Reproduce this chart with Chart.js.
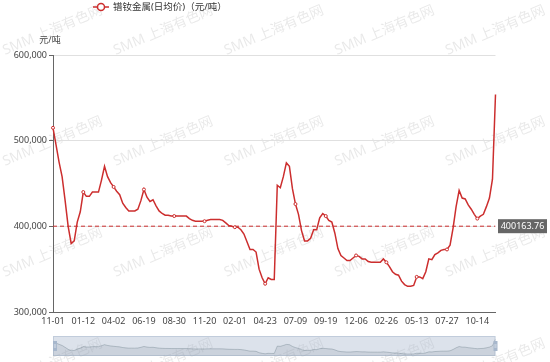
<!DOCTYPE html>
<html>
<head>
<meta charset="utf-8">
<script src="https://cdn.jsdelivr.net/npm/chart.js@4/dist/chart.umd.min.js"></script>
<style>
html, body { margin: 0; padding: 0; background: #fff; }
#wrap { position: relative; width: 550px; height: 362px; overflow: hidden; }
#main { position: absolute; left: 0; top: 0; }
#zoomBar { position: absolute; left: 48px; top: 334px; }
</style>
</head>
<body>
<div id="wrap">
  <canvas id="main" width="550" height="362" style="width:550px;height:362px"></canvas>
  <canvas id="zoomBar" width="454" height="24" style="width:454px;height:24px"></canvas>
</div>
<script>
// values, one point every ~1/10 of a label interval
var tickLabels = ['11-01', '01-12', '04-02', '06-19', '08-30', '11-20', '02-01', '04-23',
                  '07-09', '09-19', '12-06', '02-26', '05-13', '07-27', '10-14'];

var prices = [
  515000, 495000, 475000, 458000, 430000, 400000, 380000, 383000, 405000, 417000,
  440000, 435000, 435000, 440000, 440000, 440000, 454000, 470000, 458000, 451000,
  446000, 441000, 437000, 427000, 422000, 418000, 418000, 418000, 420000, 430000,
  443000, 434000, 429000, 431000, 424000, 418000, 415000, 413000, 413000, 412000,
  412000, 412000, 412000, 412000, 412000, 409000, 407000, 406000, 406000, 406000,
  406000, 407000, 408000, 408000, 408000, 408000, 407000, 404000, 401000, 400000,
  399000, 399000, 396000, 391000, 382000, 373000, 373000, 370000, 350000, 340000,
  333000, 340000, 338000, 338000, 448000, 445000, 458000, 474000, 470000, 444000,
  426000, 414000, 395000, 383000, 383000, 386000, 396000, 396000, 410000, 415000,
  412000, 407000, 405000, 392000, 374000, 366000, 363000, 360000, 360000, 363000,
  366000, 365000, 362000, 362000, 359000, 358000, 358000, 358000, 358000, 362000,
  358000, 353000, 347000, 344000, 343000, 336000, 332000, 330000, 330000, 331000,
  341000, 341000, 339000, 347000, 362000, 361000, 367000, 369000, 372000, 373000,
  373000, 378000, 398000, 423000, 442000, 433000, 432000, 425000, 420000, 414000,
  409000, 412000, 414000, 423000, 433000, 455000, 554000
];

var avgPrice = 400163.76;
var seriesName = '镨钕金属(日均价)（元/吨）';
var unitName = '元/吨';
var watermarkText = 'SMM 上海有色网';

var RED = '#cc2e2e';
var FONT = '"Noto Sans", "Noto Sans CJK SC", sans-serif';

var points = prices.map(function (v, i) { return { x: i, y: v }; });

// legend, unit title, avg label, watermark
var decor = {
    id: 'decor',
    beforeDraw: function (chart) {
        var ctx = chart.ctx;
        ctx.save();
        ctx.font = '14px ' + FONT;
        ctx.fillStyle = 'rgba(0,0,0,0.09)';
        ctx.textBaseline = 'alphabetic';
        for (var r = 0; r < 4; r++) {
            for (var c = 0; c < 5; c++) {
                ctx.save();
                ctx.translate(5 + 110.7 * c, 55 + 111 * r);
                ctx.rotate(-0.4);
                ctx.fillText(watermarkText, 0, 0);
                ctx.restore();
            }
        }
        ctx.restore();
    },
    afterDraw: function (chart) {
        var ctx = chart.ctx;
        ctx.save();

        // legend
        ctx.strokeStyle = RED;
        ctx.lineWidth = 1.5;
        ctx.beginPath();
        ctx.moveTo(93, 7);
        ctx.lineTo(109, 7);
        ctx.stroke();
        ctx.beginPath();
        ctx.arc(101, 7, 3.5, 0, Math.PI * 2);
        ctx.fillStyle = '#fff';
        ctx.fill();
        ctx.stroke();
        ctx.fillStyle = '#333';
        ctx.font = '9.5px ' + FONT;
        ctx.textBaseline = 'middle';
        ctx.textAlign = 'left';
        ctx.fillText(seriesName, 113, 7);

        // unit title
        ctx.textAlign = 'center';
        ctx.fillStyle = '#444';
        ctx.font = '9px ' + FONT;
        ctx.fillText(unitName, 50, 40);

        // avg label
        var y = chart.scales.y.getPixelForValue(avgPrice);
        ctx.fillStyle = '#666';
        ctx.fillRect(498, y - 7, 49, 14);
        ctx.fillStyle = '#fff';
        ctx.font = '9px ' + FONT;
        ctx.fillText(avgPrice.toFixed(2), 522.5, y + 0.5);

        ctx.restore();
    }
};

var mainChart = new Chart(document.getElementById('main'), {
    type: 'line',
    data: {
        datasets: [{
            label: seriesName,
            data: points,
            borderColor: RED,
            borderWidth: 1.5,
            tension: 0,
            clip: 5,
            pointRadius: function (c) { return c.dataIndex % 10 === 0 ? 1.5 : 0; },
            pointBackgroundColor: '#fff',
            pointBorderColor: RED,
            pointBorderWidth: 1
        }, {
            label: 'avg',
            data: [{ x: 0, y: avgPrice }, { x: prices.length - 1, y: avgPrice }],
            borderColor: RED,
            borderWidth: 1,
            borderDash: [4, 3],
            pointRadius: 0
        }]
    },
    options: {
        responsive: false,
        animation: false,
        events: [],
        layout: { padding: { left: 0, top: 55, right: 54.5, bottom: 0 } },
        plugins: {
            legend: { display: false },
            tooltip: { enabled: false }
        },
        scales: {
            x: {
                type: 'linear',
                min: 0,
                max: prices.length - 1,
                afterFit: function (s) { s.height = 50; },
                grid: { display: false, drawTicks: false },
                border: { color: '#666' },
                ticks: {
                    stepSize: 10,
                    includeBounds: false,
                    autoSkip: false,
                    maxRotation: 0,
                    padding: 4,
                    color: '#444',
                    font: { size: 9, family: FONT },
                    callback: function (v) { return tickLabels[v / 10] || ''; }
                }
            },
            y: {
                min: 300000,
                max: 600000,
                afterFit: function (s) { s.width = 53; },
                grid: { color: '#e0e0e0', tickColor: '#666', tickLength: 4 },
                border: { color: '#666' },
                ticks: {
                    stepSize: 100000,
                    padding: 2,
                    color: '#444',
                    font: { size: 9, family: FONT },
                    callback: function (v) { return v.toLocaleString('en-US'); }
                }
            }
        }
    },
    plugins: [decor]
});

// data zoom slider (full range selected)
var sliderDecor = {
    id: 'sliderDecor',
    beforeDraw: function (chart) {
        var a = chart.chartArea, ctx = chart.ctx;
        ctx.save();
        ctx.fillStyle = 'rgba(167,183,204,0.4)';
        ctx.fillRect(a.left, a.top, a.right - a.left, a.bottom - a.top);
        ctx.strokeStyle = 'rgba(167,183,204,0.5)';
        ctx.lineWidth = 1;
        ctx.strokeRect(a.left + 0.5, a.top + 0.5, a.right - a.left - 1, a.bottom - a.top - 1);
        ctx.restore();
    },
    afterDraw: function (chart) {
        var a = chart.chartArea, ctx = chart.ctx;
        var mid = (a.top + a.bottom) / 2;
        ctx.save();
        [a.left + 2, a.right].forEach(function (x) {
            ctx.fillStyle = '#a7b7cc';
            ctx.fillRect(x - 2, mid - 5, 4, 10);
            ctx.strokeStyle = '#fff';
            ctx.lineWidth = 0.6;
            ctx.beginPath();
            ctx.moveTo(x - 1.2, mid - 1);
            ctx.lineTo(x + 1.2, mid - 1);
            ctx.moveTo(x - 1.2, mid + 1);
            ctx.lineTo(x + 1.2, mid + 1);
            ctx.stroke();
        });
        ctx.restore();
    }
};

var sliderChart = new Chart(document.getElementById('zoomBar'), {
    type: 'line',
    data: {
        datasets: [{
            data: points,
            borderColor: 'rgba(47,69,84,0.3)',
            borderWidth: 0.8,
            backgroundColor: 'rgba(47,69,84,0.1)',
            fill: 'start',
            pointRadius: 0,
            tension: 0
        }]
    },
    options: {
        responsive: false,
        animation: false,
        events: [],
        layout: { padding: { left: 5, right: 6.5, top: 2, bottom: 2 } },
        plugins: { legend: { display: false }, tooltip: { enabled: false } },
        scales: {
            x: { type: 'linear', display: false, min: 0, max: prices.length - 1 },
            y: { display: false, min: 300000, max: 600000 }
        }
    },
    plugins: [sliderDecor]
});
</script>
</body>
</html>
